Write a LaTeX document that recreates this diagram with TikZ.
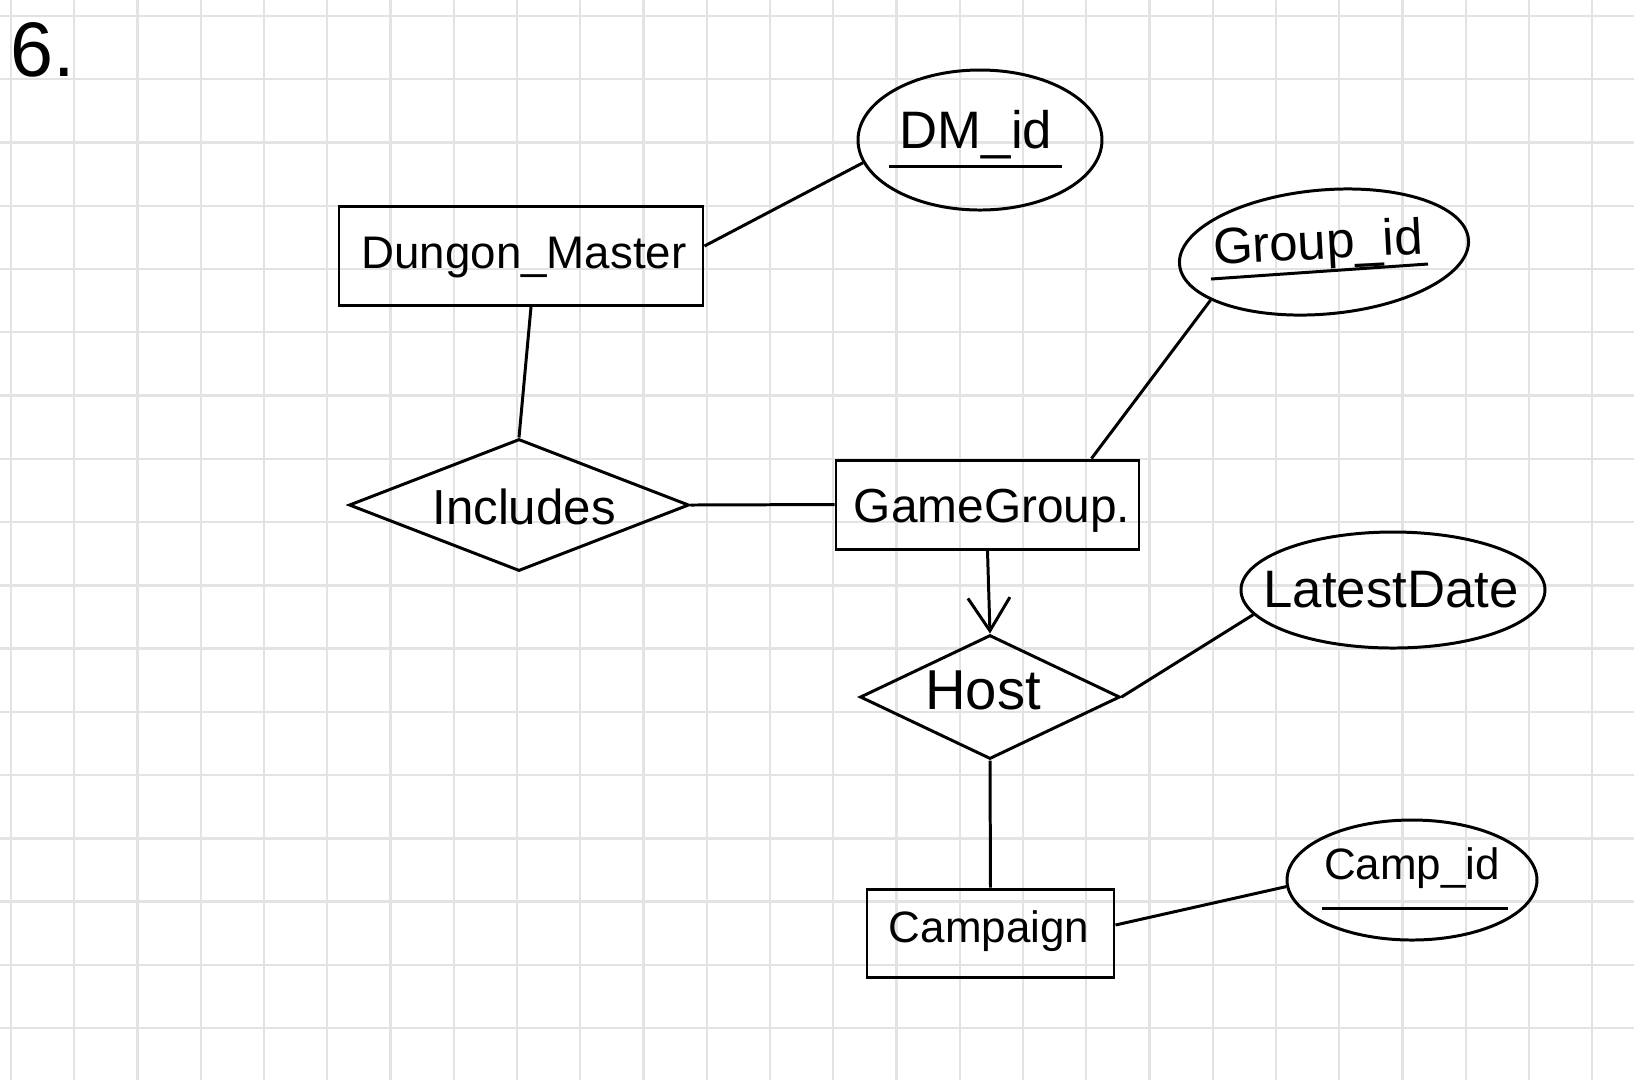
\documentclass[tikz,border=0pt]{standalone}
\usepackage{fontspec}
\setmainfont{Liberation Sans}
\usetikzlibrary{shapes.geometric,arrows.meta}
\begin{document}
\begin{tikzpicture}[x=0.1mm,y=-0.1mm,
  ln/.style={line width=0.85pt,draw=black},
  gridln/.style={line width=0.7pt,draw=black!11},
  entity/.style={ln,rectangle,inner sep=0pt},
  relship/.style={ln,diamond,inner sep=0pt},
  attr/.style={ln,ellipse,inner sep=0pt},
  lbl/.style={inner sep=0pt,font=\fontsize{14}{16}\selectfont},
  arr/.style={ln,-{Straight Barb[length=3.3mm,width=4.2mm,line width=0.85pt]}}]
% background and bounding box
\fill[white] (0,0) rectangle (1634,1080);
\useasboundingbox (0,0) rectangle (1634,1080);
% grid paper
\foreach \i in {0,...,25} \draw[gridln] ({11+63.25*\i},0) -- ({11+63.25*\i},1080);
\foreach \j in {0,...,16} \draw[gridln] (0,{16+63.25*\j}) -- (1634,{16+63.25*\j});
% number
\node[inner sep=0pt,anchor=west,font=\fontsize{22}{24}\selectfont] (num) at (10,50) {6.};
% entities
\node[entity,minimum width=36.4mm,minimum height=9.9mm] (dm) at (521,256) {};
\node[lbl,font=\fontsize{13}{15}\selectfont] (dmt) at (524,258) {Dungon\_Master};
\node[entity,minimum width=30.3mm,minimum height=8.9mm] (gg) at (987.5,504.5) {};
\node[lbl,font=\fontsize{13.6}{15}\selectfont] (ggt) at (992,511) {GameGroup.};
\node[entity,minimum width=24.7mm,minimum height=8.8mm] (camp) at (990.5,933) {};
\node[lbl,font=\fontsize{12.5}{15}\selectfont] (campt) at (989,931) {Campaign};
% relationships
\node[relship,minimum width=34.0mm,minimum height=13.2mm] (inc) at (519,505) {};
\node[lbl] (inct) at (524,507) {Includes};
\node[relship,minimum width=26.0mm,minimum height=12.4mm] (host) at (990,697) {};
\node[lbl,font=\fontsize{16}{18}\selectfont] (hostt) at (983,690) {Host};
% attributes
\node[attr,minimum width=24.4mm,minimum height=14.0mm] (dmid) at (980,140) {};
\node[lbl,font=\fontsize{15}{17}\selectfont] (dmidt) at (976,135) {DM\_id};
\node[attr,minimum width=29.0mm,minimum height=12.4mm,rotate=5] (gid) at (1324,252) {};
\node[lbl,font=\fontsize{14.5}{17}\selectfont,rotate=3] (gidt) at (1318,246) {Group\_id};
\node[attr,minimum width=30.4mm,minimum height=11.6mm] (ld) at (1393,590) {};
\node[lbl,font=\fontsize{15}{17}\selectfont] (ldt) at (1391,590) {LatestDate};
\node[attr,minimum width=25.0mm,minimum height=12.0mm] (cid) at (1412,880) {};
\node[lbl,font=\fontsize{12.5}{15}\selectfont] (cidt) at (1412,868) {Camp\_id};
% key underlines
\draw[ln] ([shift={(-91,26)}]dmid.center) -- ([shift={(82,26)}]dmid.center);
\draw[ln] ([shift={(-113,27)}]gid.center) -- ([shift={(104,12)}]gid.center);
\draw[ln] ([shift={(-90,28)}]cid.center) -- ([shift={(96,28)}]cid.center);
% connectors
\draw[ln] ([shift={(0,-10)}]dm.east) -- (dmid.191);
\draw[ln] ([shift={(10,0)}]dm.south) -- (inc.north);
\draw[ln] (inc.east) -- (gg.west);
\draw[ln] ([shift={(104,0)}]gg.north) -- (gid.198);
\draw[arr] (gg.south) -- (host.north);
\draw[ln] (host.east) -- (ld.190);
\draw[ln] (host.south) -- (camp.north);
\draw[ln] ([shift={(0,-8)}]camp.east) -- (cid.183);
\end{tikzpicture}
\end{document}
